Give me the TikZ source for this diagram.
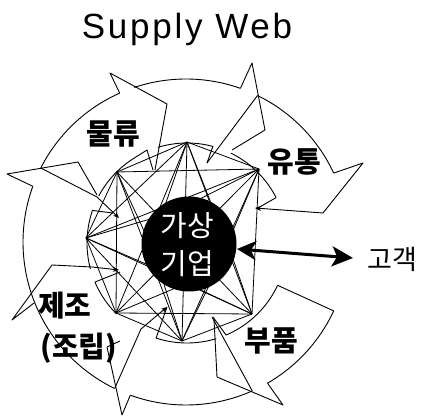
\documentclass[tikz,border=0pt]{standalone}
\usepackage{fontspec}
\setmainfont{Liberation Sans}
\newfontfamily\kr{Noto Sans CJK KR}
\usetikzlibrary{calc,arrows.meta}
\begin{document}
\begin{tikzpicture}[x=1pt,y=-1pt,line width=0.9pt,line join=round,
  web/.style={line width=0.8pt},
  sar/.style={-{Stealth[length=6pt,width=5pt]}},
  lbl/.style={font=\kr\bfseries\fontsize{29}{29}\selectfont,inner sep=0pt},
  wlbl/.style={font=\kr\fontsize{29}{29}\selectfont,inner sep=0pt,text=white},
  glbl/.style={font=\kr\fontsize{27}{27}\selectfont,inner sep=0pt}]
\useasboundingbox (0,0) rectangle (424,417);

% title
\node[font=\fontsize{35}{35}\selectfont\addfontfeatures{LetterSpace=8},anchor=base,inner sep=0pt] (title) at (187,39) {Supply Web};

% hubs of the web
\coordinate (Kc) at (189,244);
\coordinate (T) at (187,142);
\coordinate (TR) at (259,169);
\coordinate (TL) at (117,172);
\coordinate (L) at (86,238);
\coordinate (BL) at (116,313);
\coordinate (B) at (182,341);
\coordinate (BR) at (252,314);

% web lines: every hub joined to every other hub
\foreach \a/\b in {T/TR,T/TL,T/L,T/BL,T/B,T/BR,
                   TR/TL,TR/L,TR/BL,TR/B,TR/BR,
                   TL/L,TL/BL,TL/B,TL/BR,
                   L/BL,L/B,L/BR,
                   BL/B,BL/BR,B/BR}
  \draw[web] (\a) -- (\b);
% a few extra rays to the circle
\foreach \h/\t in {TR/283,TR/343,L/153,L/213,BR/18,BR/78,T/239,T/299,B/64,B/124,TL/195,BL/107}
  \draw[web] (\h) -- ($(Kc)+(\t:46)$);

% outer arcs
\draw plot[domain=207:246,samples=40] ({186+163*cos(\x)},{242+163*sin(\x)});
\draw plot[domain=251.5:289.5,samples=40] ({186+163*cos(\x)},{242+163*sin(\x)});
\draw plot[domain=296:335,samples=40] ({186+163*cos(\x)},{242+163*sin(\x)});
\draw plot[domain=25:60,samples=40] ({186+163*cos(\x)},{242+163*sin(\x)});
\draw plot[domain=66:110,samples=40] ({186+163*cos(\x)},{242+163*sin(\x)});
\draw plot[domain=116:200,samples=60] ({186+163*cos(\x)},{242+163*sin(\x)});

% outer heads and tails
\draw (119.7,93.1) -- (110,73) -- (167,104) -- (155,170);
\draw (240.4,88.3) -- (252,63) -- (265,130) -- (232,150);
\draw (257.5,95.5) -- (207,163);
\draw[sar] (333.7,173.1) -- (363,163) -- (323,213) -- (255,208);
\draw (333.7,310.9) -- (277.6,285.3);
\draw (267.5,383.2) -- (283,405) -- (217,377) -- (214,319);
\draw (252.3,391) -- (212,317);
\draw (130.3,395.2) -- (122,415) -- (107,347) -- (120,341);
\draw[sar] (114.6,388.5) -- (141,329) -- (167,307);
\draw[sar] (34,303) -- (12,320) -- (52,265) -- (92,267) -- (119,270);
\draw (32.8,186.3) -- (7,174) -- (78,162) -- (97,195);
\draw[sar] (40.8,168) -- (97,197) -- (119,218);

% inner ring pieces
\draw plot[domain=208:239,samples=20] ({187+100*cos(\x)},{243+100*sin(\x)}) -- (147,150) -- (153,170);
\draw plot[domain=253:285,samples=20] ({187+100*cos(\x)},{243+100*sin(\x)}) -- (207,163);
\draw plot[domain=296:333,samples=20] ({187+100*cos(\x)},{243+100*sin(\x)}) -- (258,208);
\draw plot[domain=25:67,samples=20] ({187+100*cos(\x)},{243+100*sin(\x)}) -- (213,317);
\draw plot[domain=73:108,samples=20] ({187+100*cos(\x)},{243+100*sin(\x)}) -- (167,307);
\draw plot[domain=135:157,samples=20] ({187+100*cos(\x)},{243+100*sin(\x)}) -- (120,272);
\draw plot[domain=165:199,samples=20] ({187+100*cos(\x)},{243+100*sin(\x)}) -- (113,213);

% central circle
\node[circle,fill=black,minimum size=95pt,inner sep=0pt] (K) at (189,244) {};
\node[wlbl] (k1) at (187,226) {가상};
\node[wlbl] (k2) at (187,264) {기업};

% customer arrow
\coordinate (ga) at (237,249);
\coordinate (gb) at (353,258);
\draw[line width=3pt,{Stealth[length=19pt,width=19pt,inset=5pt]}-{Stealth[length=21pt,width=20pt,inset=5pt]}] (ga) -- (gb);
\node[glbl] (cust) at (392,259) {고객};

% labels
\node[lbl] (l1) at (113,134) {물류};
\node[lbl] (l2) at (294,162) {유통};
\node[lbl] (l3) at (271,341) {부품};
\node[lbl] (l4) at (65,306) {제조};
\node[lbl] (l5) at (79,348) {(조립)};
\end{tikzpicture}
\end{document}
